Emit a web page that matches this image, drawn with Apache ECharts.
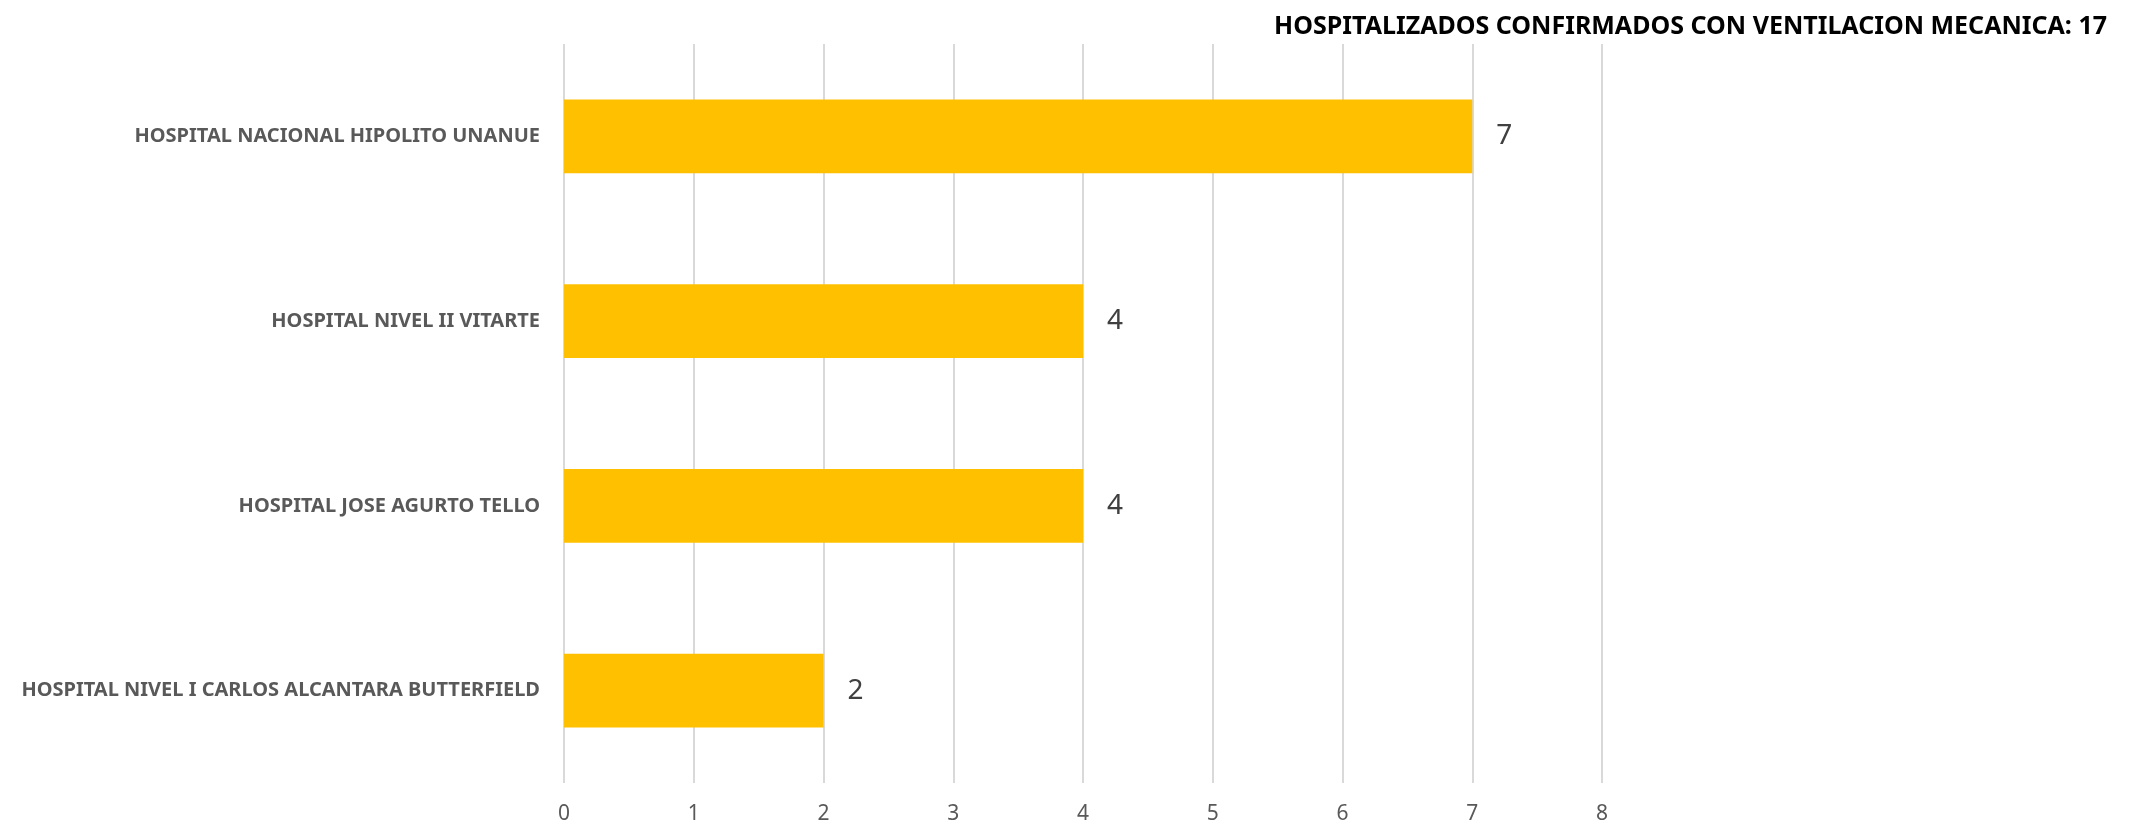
<!DOCTYPE html>
<html>
<head>
<meta charset="utf-8">
<script src="https://cdn.jsdelivr.net/npm/echarts@6/dist/echarts.min.js"></script>
<style>
  html, body { margin: 0; padding: 0; background: #fff; }
  #chart { width: 2136px; height: 826px; }
</style>
</head>
<body>
<div id="chart"></div>
<script>
// datos: pacientes hospitalizados con ventilacion mecanica
var hospitales = [
    'HOSPITAL NACIONAL HIPOLITO UNANUE',
    'HOSPITAL NIVEL II VITARTE',
    'HOSPITAL JOSE AGURTO TELLO',
    'HOSPITAL NIVEL I CARLOS ALCANTARA BUTTERFIELD'
];
var pacientes = [7, 4, 4, 2];
var tituloTexto = 'HOSPITALIZADOS CONFIRMADOS CON VENTILACION MECANICA: 17';

var chart = echarts.init(document.getElementById('chart'));
chart.setOption({
    animation: false,
    textStyle: { fontFamily: 'Noto Sans' },
    title: {
        text: tituloTexto,
        right: 24,
        top: 9,
        textStyle: {
            fontFamily: 'Noto Sans',
            fontWeight: 'bold',
            fontSize: 25,
            color: '#000'
        }
    },
    grid: {
        left: 564,
        right: 534,
        top: 44,
        bottom: 43,
        containLabel: false
    },
    xAxis: {
        type: 'value',
        min: 0,
        max: 8,
        interval: 1,
        axisLine: { show: false },
        axisTick: { show: false },
        splitLine: { show: true, lineStyle: { color: '#d9d9d9', width: 2 } },
        axisLabel: {
            color: '#595959',
            fontSize: 21,
            margin: 21
        }
    },
    yAxis: {
        type: 'category',
        inverse: true,
        data: hospitales,
        axisLine: { show: false },
        axisTick: { show: false },
        axisLabel: {
            color: '#595959',
            fontWeight: 'bold',
            fontSize: 20,
            margin: 24
        }
    },
    series: [{
        type: 'bar',
        data: pacientes,
        barCategoryGap: '60%',
        itemStyle: { color: '#FFC000' },
        label: {
            show: true,
            position: 'right',
            distance: 24,
            color: '#404040',
            fontSize: 28
        }
    }]
});
</script>
</body>
</html>
